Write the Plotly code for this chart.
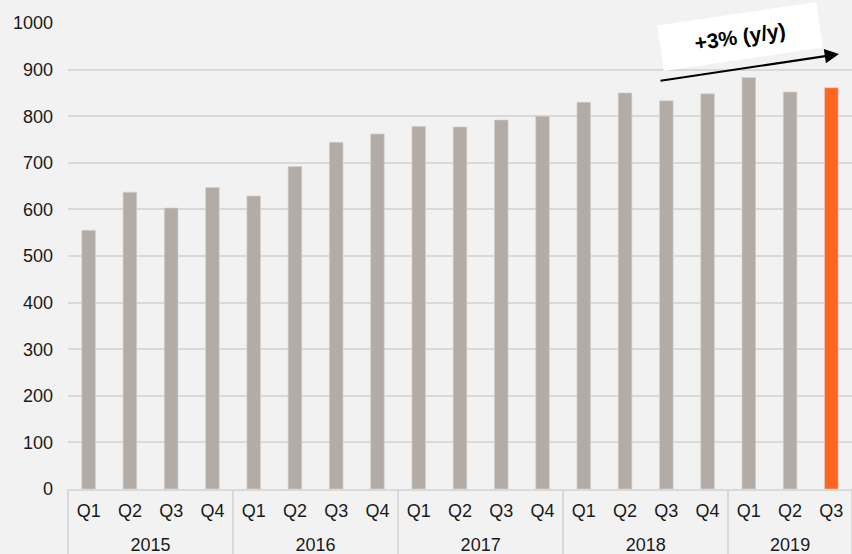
import plotly.graph_objects as go

# Quarterly figures, 2015 Q1 – 2019 Q3
years = ["2015"] * 4 + ["2016"] * 4 + ["2017"] * 4 + ["2018"] * 4 + ["2019"] * 3
quarters = ["Q1", "Q2", "Q3", "Q4"] * 4 + ["Q1", "Q2", "Q3"]
values = [555, 637, 603, 647, 629, 692, 744, 762, 778, 777, 792, 800,
          830, 850, 833, 848, 883, 852, 861]

y_ticks = list(range(0, 1001, 100))
growth_label = "+3% (y/y)"

grey = "#b3aca6"
orange = "#ff6420"
line_grey = "#d9d9d9"
colors = [grey] * (len(values) - 1) + [orange]

# One category per quarter; quarter names shown as tick text
keys = [f"{y} {q}" for y, q in zip(years, quarters)]

# Year groups: centre position for the label, boundaries for the dividers
year_names, year_centres, boundaries = [], [], [-0.5]
start = 0
for i in range(1, len(years) + 1):
    if i == len(years) or years[i] != years[start]:
        year_names.append(years[start])
        year_centres.append((start + i - 1) / 2)
        boundaries.append(i - 0.5)
        start = i

n = len(values)

fig = go.Figure(
    go.Bar(
        x=keys,
        y=values,
        marker=dict(color=colors, line=dict(color="#d6d1cc", width=0.6)),
        hovertext=[f"{y} {q}" for y, q in zip(years, quarters)],
        hoverinfo="text+y",
    )
)

# Invisible helper trace so the year axis is drawn
fig.add_trace(go.Scatter(x=[], y=[], xaxis="x2", showlegend=False))

fig.update_layout(
    width=852,
    height=554,
    margin=dict(l=68, r=0, t=23, b=65),
    paper_bgcolor="#f2f2f2",
    plot_bgcolor="#f2f2f2",
    bargap=0.67,
    showlegend=False,
    font=dict(family="Liberation Sans, Arial, sans-serif", size=18, color="#1a1a1a"),
    xaxis=dict(
        type="category",
        categoryorder="array",
        categoryarray=keys,
        range=[-0.5, n - 0.5],
        tickvals=keys,
        ticktext=quarters,
        showline=True,
        linecolor=line_grey,
        linewidth=1.5,
        showgrid=False,
        ticks="",
        ticklabelstandoff=5,
        tickfont=dict(size=18),
    ),
    xaxis2=dict(
        overlaying="x",
        anchor="y",
        side="bottom",
        type="linear",
        range=[-0.5, n - 0.5],
        tickmode="array",
        tickvals=year_centres,
        ticktext=year_names,
        showgrid=False,
        zeroline=False,
        showline=False,
        ticks="",
        ticklabelstandoff=43,
        tickfont=dict(size=18),
        minor=dict(
            tickmode="array",
            tickvals=boundaries,
            ticks="outside",
            ticklen=66,
            tickwidth=1.5,
            tickcolor=line_grey,
            showgrid=False,
        ),
    ),
    yaxis=dict(
        range=[0, 1000],
        tickvals=y_ticks,
        showgrid=True,
        gridcolor=line_grey,
        gridwidth=1.5,
        zeroline=False,
        showline=False,
        ticks="",
        ticklabelstandoff=14,
        tickfont=dict(size=18),
    ),
)

# Trend arrow across the latest quarters
fig.add_annotation(
    xref="paper", yref="paper",
    x=(839 - 68) / 784, y=(489 - 54) / 466,
    ax=-180, ay=27,
    axref="pixel", ayref="pixel",
    text="",
    showarrow=True,
    arrowhead=2,
    arrowsize=1.3,
    arrowwidth=2.2,
    arrowcolor="#000000",
    standoff=0,
)

# Growth label on a tilted white box
fig.add_annotation(
    xref="paper", yref="paper",
    x=(740 - 68) / 784, y=(489 - 36) / 466,
    xanchor="center", yanchor="middle",
    text="<b>" + growth_label + "</b>",
    showarrow=False,
    textangle=-8.4,
    bgcolor="#ffffff",
    width=160,
    height=45,
    borderpad=0,
    font=dict(size=21, color="#000000"),
)

fig.write_html("out.html")
